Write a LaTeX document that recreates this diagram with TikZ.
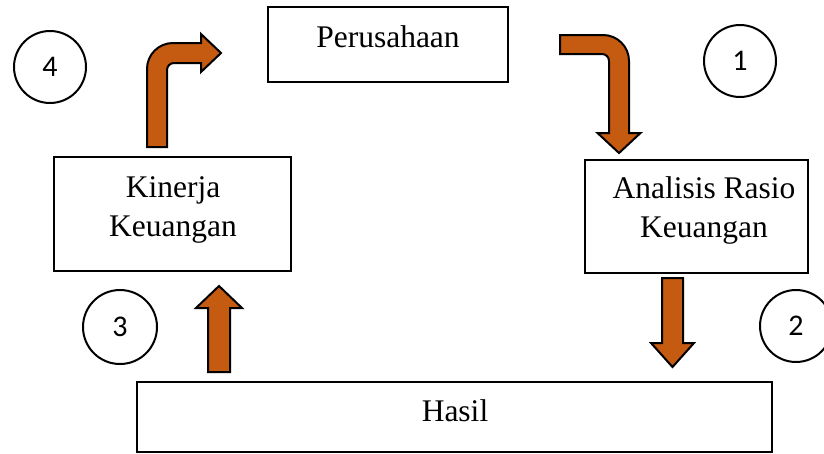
\documentclass[tikz,border=0pt]{standalone}
\usepackage{fontspec}
\setmainfont{Liberation Serif}
\newfontfamily\numfont{Carlito}
\begin{document}
\begin{tikzpicture}[x=1pt,y=-1pt,
  box/.style={draw=black,line width=2pt,fill=white,inner sep=0pt},
  lbl/.style={font=\fontsize{31.5}{39}\selectfont,anchor=base,inner sep=0pt},
  num/.style={draw=black,line width=2pt,circle,inner sep=0pt},
  barrow/.style={draw=black,line width=2pt,fill=arrowfill,line join=miter}]
\definecolor{arrowfill}{HTML}{C55A11}
\useasboundingbox (0,0) rectangle (824,453);
\clip (0,0) rectangle (824,453);
% boxes
\node[box,minimum width=240pt,minimum height=75pt] (per) at (388,44.5) {};
\node[box,minimum width=237pt,minimum height=114pt] (kin) at (172.5,214) {};
\node[box,minimum width=223pt,minimum height=113pt] (ana) at (696.5,216.5) {};
\node[box,minimum width=635pt,minimum height=70pt] (has) at (454.5,417) {};
% texts
\node[lbl] (tper) at (388,47) {Perusahaan};
\node[lbl] (tkin1) at (173,197) {Kinerja};
\node[lbl] (tkin2) at (173,236) {Keuangan};
\node[lbl] (tana1) at (704,198) {Analisis Rasio};
\node[lbl] (tana2) at (704,237) {Keuangan};
\node[lbl] (thas) at (455,421) {Hasil};
% circles
\node[num,minimum size=72pt] (c4) at (50,67) {\numfont\fontsize{30}{34}\selectfont 4};
\node[num,minimum size=72pt] (c1) at (740,61) {\numfont\fontsize{30}{34}\selectfont 1};
\node[num,minimum size=74pt] (c3) at (120,327) {\numfont\fontsize{30}{34}\selectfont 3};
\node[num,minimum size=72pt] (c2) at (796,326) {\numfont\fontsize{30}{34}\selectfont 2};
% arrow 4: Kinerja -> Perusahaan (bent up-right)
\draw[barrow] (147,147) -- (147,69) .. controls (147,54.6) and (158.6,43) .. (173,43)
  -- (201,43) -- (201,34) -- (221,53) -- (201,72) -- (201,63) -- (174,63)
  .. controls (170.1,63) and (167,66.1) .. (167,70) -- (167,147) -- cycle;
% arrow 1: Perusahaan -> Analisis (bent right-down)
\draw[barrow] (560,35) -- (603,35) .. controls (617.4,35) and (629,46.6) .. (629,61)
  -- (629,133) -- (640.5,133) -- (619,153) -- (597.5,133) -- (609,133) -- (609,61)
  .. controls (609,57.1) and (605.9,54) .. (602,54) -- (560,54) -- cycle;
% arrow 2: Analisis -> Hasil (down)
\draw[barrow] (662,278) -- (683,278) -- (683,343) -- (694,343) -- (672.5,367)
  -- (651,343) -- (662,343) -- cycle;
% arrow 3: Hasil -> Kinerja (up)
\draw[barrow] (208,372) -- (208,308) -- (196,308) -- (219,286) -- (242,308)
  -- (230,308) -- (230,372) -- cycle;
\end{tikzpicture}
\end{document}
